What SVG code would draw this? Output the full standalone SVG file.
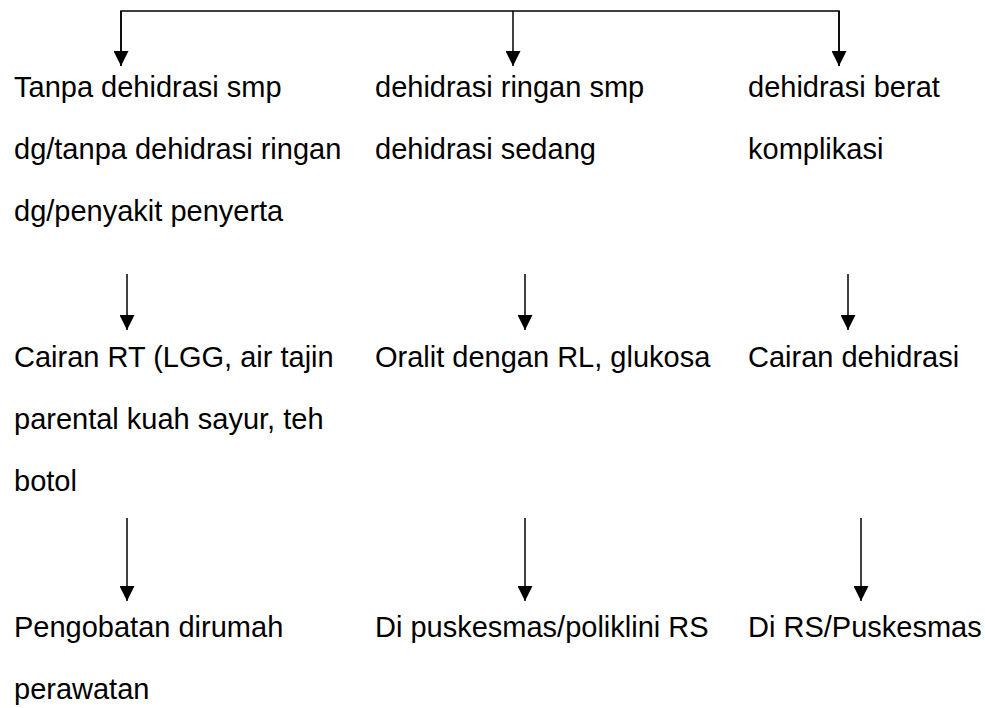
<svg xmlns="http://www.w3.org/2000/svg" width="985" height="708" viewBox="0 0 985 708">
<style>
  .t { font-family: "Liberation Sans", Arial, sans-serif; font-size: 29px; fill: #000; }
  .c { stroke: #000; stroke-width: 1.5; fill: none; }
  .a { stroke: #000; stroke-width: 1.5; fill: none; marker-end: url(#arr); }
</style>
<defs>
  <marker id="arr" markerUnits="userSpaceOnUse" markerWidth="15" markerHeight="15" refX="15" refY="7.5" orient="auto" viewBox="0 0 15 15">
    <path d="M0,0 L15,7.5 L0,15 z" fill="#000"/>
  </marker>
</defs>
<rect width="985" height="708" fill="#fff"/>
<g id="connectors">
  <polyline class="c" points="121,66 121,11 839,11 839,66"/>
  <line class="a" x1="121" y1="11" x2="121" y2="66"/>
  <line class="a" x1="513" y1="11" x2="513" y2="66"/>
  <line class="a" x1="839" y1="11" x2="839" y2="66"/>
  <line class="a" x1="127" y1="274" x2="127" y2="330"/>
  <line class="a" x1="525" y1="274" x2="525" y2="330"/>
  <line class="a" x1="848" y1="274" x2="848" y2="330"/>
  <line class="a" x1="127" y1="518" x2="127" y2="601"/>
  <line class="a" x1="525" y1="518" x2="525" y2="601"/>
  <line class="a" x1="861" y1="518" x2="861" y2="601"/>
</g>
<g id="n1"><text class="t" x="14" y="97">Tanpa dehidrasi smp</text><text class="t" x="14" y="159">dg/tanpa dehidrasi ringan</text><text class="t" x="14" y="221">dg/penyakit penyerta</text></g>
<g id="n2"><text class="t" x="375" y="97">dehidrasi ringan smp</text><text class="t" x="375" y="159">dehidrasi sedang</text></g>
<g id="n3"><text class="t" x="748" y="97">dehidrasi berat</text><text class="t" x="748" y="159">komplikasi</text></g>
<g id="n4"><text class="t" x="14" y="367">Cairan RT (LGG, air tajin</text><text class="t" x="14" y="429">parental kuah sayur, teh</text><text class="t" x="14" y="491">botol</text></g>
<g id="n5"><text class="t" x="375" y="367">Oralit dengan RL, glukosa</text></g>
<g id="n6"><text class="t" x="748" y="367">Cairan dehidrasi</text></g>
<g id="n7"><text class="t" x="14" y="637">Pengobatan dirumah</text><text class="t" x="14" y="699">perawatan</text></g>
<g id="n8"><text class="t" x="375" y="637">Di puskesmas/poliklini RS</text></g>
<g id="n9"><text class="t" x="748" y="637">Di RS/Puskesmas</text></g>
</svg>
